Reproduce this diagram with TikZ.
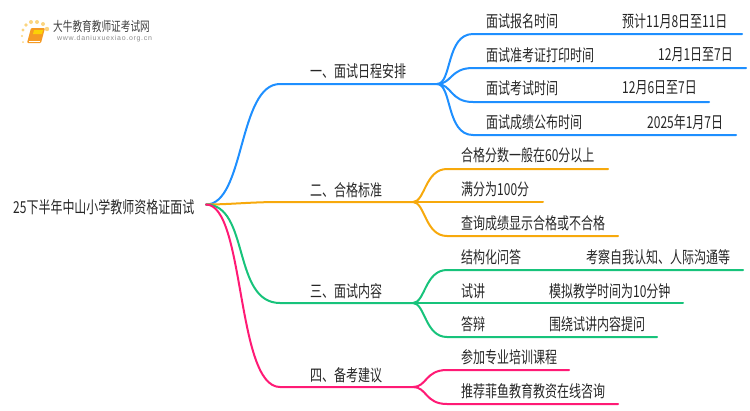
\documentclass[tikz,border=0pt]{standalone}
\usepackage{fontspec}
\setmainfont[FakeStretch=0.727]{Noto Sans CJK SC}
\newfontfamily\urlfont[LetterSpace=10]{Liberation Sans}
\definecolor{blueline}{HTML}{1E8FFF}
\definecolor{orangeline}{HTML}{F7A90C}
\definecolor{greenline}{HTML}{17C37B}
\definecolor{pinkline}{HTML}{FF1A75}
\definecolor{bookcolor}{HTML}{F59A23}
\definecolor{dotcolor}{HTML}{FBD580}
\tikzset{
  lab/.style={anchor=west, inner sep=0pt, text=black!85, font=\fontsize{16.5}{16.5}\selectfont},
  branch/.style={line width=2pt, line cap=round}
}
\begin{document}
\begin{tikzpicture}[x=1pt, y=-1pt]
\useasboundingbox (0,0) rectangle (750,410);

% Logo
\foreach \px/\py/\r in {23/30/1.6, 26/25/1.8, 31/22/2, 37/22/2, 43/24/2, 47/29/2.2, 22/36/1.2, 23/42/1}
  \fill[dotcolor] (\px,\py) circle (\r);
\fill[bookcolor, rounded corners=1pt] (31,28) -- (45,28) -- (41,43) -- (27,43) -- cycle;
\fill[yellow!70!orange] (34,30) -- (43,30) -- (42,34) -- (33,34) -- cycle;
\draw[white, line width=.5pt] (29,41) -- (40,41);
\node[anchor=west, inner sep=0pt, text=black!75, font=\fontsize{13.3}{13.3}\selectfont] (logotext) at (53,26) {大牛教育教师证考试网};
\node[anchor=west, inner sep=0pt, text=black!45, font=\urlfont\fontsize{7}{7}\selectfont] (logourl) at (57,39) {www.daniuxuexiao.org.cn};

% Root
\node[lab] (root) at (13,207) {25下半年中山小学教师资格证面试};
\coordinate (rootout) at (206,204.5);

% Main labels
\node[lab] (main1) at (310,71) {一、面试日程安排};
\node[lab] (main2) at (310,190) {二、合格标准};
\node[lab] (main3) at (310,291) {三、面试内容};
\node[lab] (main4) at (310,375) {四、备考建议};

% Forks
\coordinate (fork1) at (437,84);
\coordinate (fork2) at (413,202);
\coordinate (fork3) at (413,303);
\coordinate (fork4) at (413,387);

% Main branches
\draw[branch, blueline] (rootout) .. controls (245,204.5) and (238,84) .. (280,84) -- (fork1);
\draw[branch, orangeline] (rootout) .. controls (230,204.5) and (250,202) .. (280,202) -- (fork2);
\draw[branch, greenline] (rootout) .. controls (250,204.5) and (232,303) .. (280,303) -- (fork3);
\draw[branch, pinkline] (rootout) .. controls (245,204.5) and (236,387) .. (280,387) -- (fork4);

% Blue leaves
\node[lab] (a1) at (486,21) {面试报名时间};
\node[lab] (a2) at (486,55) {面试准考证打印时间};
\node[lab] (a3) at (486,88) {面试考试时间};
\node[lab] (a4) at (486,122) {面试成绩公布时间};
\node[lab] (av1) at (622,21) {预计11月8日至11日};
\node[lab] (av2) at (658,55) {12月1日至7日};
\node[lab] (av3) at (622,88) {12月6日至7日};
\node[lab] (av4) at (647,122) {2025年1月7日};
\coordinate (ae1) at (742,34);
\coordinate (ae2) at (746,68);
\coordinate (ae3) at (709,102);
\coordinate (ae4) at (736,135);
\draw[branch, blueline] (fork1) .. controls (452,84) and (446,34) .. (473,34) -- (ae1);
\draw[branch, blueline] (fork1) .. controls (452,84) and (450,68) .. (473,68) -- (ae2);
\draw[branch, blueline] (fork1) .. controls (452,84) and (450,102) .. (473,102) -- (ae3);
\draw[branch, blueline] (fork1) .. controls (452,84) and (446,135) .. (473,135) -- (ae4);

% Orange leaves
\node[lab] (b1) at (461,155) {合格分数一般在60分以上};
\node[lab] (b2) at (461,189) {满分为100分};
\node[lab] (b3) at (461,223) {查询成绩显示合格或不合格};
\coordinate (be1) at (608,169);
\coordinate (be2) at (543,202);
\coordinate (be3) at (618,236);
\draw[branch, orangeline] (fork2) .. controls (425,202) and (425,169) .. (447,169) -- (be1);
\draw[branch, orangeline] (fork2) -- (be2);
\draw[branch, orangeline] (fork2) .. controls (425,202) and (425,236) .. (447,236) -- (be3);

% Green leaves
\node[lab] (c1) at (461,257) {结构化问答};
\node[lab] (c2) at (461,291) {试讲};
\node[lab] (c3) at (461,324) {答辩};
\node[lab] (cv1) at (586,257) {考察自我认知、人际沟通等};
\node[lab] (cv2) at (549,291) {模拟教学时间为10分钟};
\node[lab] (cv3) at (549,324) {围绕试讲内容提问};
\coordinate (ce1) at (743,270);
\coordinate (ce2) at (683,303);
\coordinate (ce3) at (657,337);
\draw[branch, greenline] (fork3) .. controls (425,303) and (425,270) .. (447,270) -- (ce1);
\draw[branch, greenline] (fork3) -- (ce2);
\draw[branch, greenline] (fork3) .. controls (425,303) and (425,337) .. (447,337) -- (ce3);

% Pink leaves
\node[lab] (d1) at (461,357) {参加专业培训课程};
\node[lab] (d2) at (461,391) {推荐菲鱼教育教资在线咨询};
\coordinate (de1) at (569,370);
\coordinate (de2) at (618,404);
\draw[branch, pinkline] (fork4) .. controls (427,387) and (425,370) .. (447,370) -- (de1);
\draw[branch, pinkline] (fork4) .. controls (427,387) and (425,404) .. (447,404) -- (de2);

\end{tikzpicture}
\end{document}
